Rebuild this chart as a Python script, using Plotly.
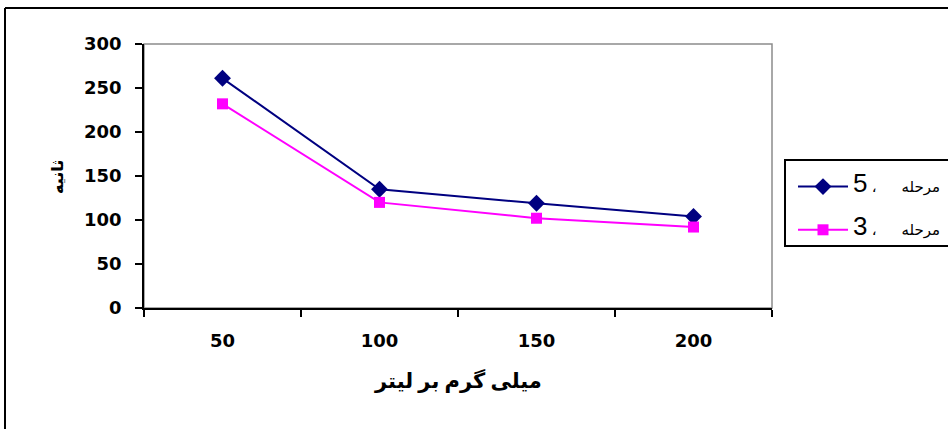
import plotly.graph_objects as go

categories = ["50", "100", "150", "200"]
stage5 = [261, 135, 119, 104]
stage3 = [232, 120, 102, 92]
y_ticks = [0, 50, 100, 150, 200, 250, 300]
gap = "\u00a0" * 6
name5 = "<span style='font-size:26px'>5</span><span style='font-size:15px'> ،" + gap + "مرحله</span>"
name3 = "<span style='font-size:26px'>3</span><span style='font-size:15px'> ،" + gap + "مرحله</span>"
x_title = "میلی گرم بر لیتر"
y_title = "ثانیه"

W, H = 948, 429
L, R, T, B = 144, 772, 44, 308
pw, ph = R - L, B - T

def px(x):
    return (x - L) / pw

def py(y):
    return (B - y) / ph

fig = go.Figure()
fig.add_trace(go.Scatter(
    x=categories, y=stage5, name=name5, mode="lines+markers",
    line=dict(color="#000080", width=2),
    marker=dict(symbol="diamond", size=13, color="#000080"),
    legendgroup="a",
))
fig.add_trace(go.Scatter(
    x=categories, y=stage3, name=name3, mode="lines+markers",
    line=dict(color="#FF00FF", width=2),
    marker=dict(symbol="square", size=11, color="#FF00FF"),
    legendgroup="b",
))

tick_font = dict(family="DejaVu Sans, Arial, sans-serif", size=18, weight="bold")

fig.update_layout(
    width=W, height=H,
    margin=dict(l=L, r=W - R, t=T, b=H - B, autoexpand=False),
    paper_bgcolor="white", plot_bgcolor="white",
    font=dict(family="Arial, Liberation Sans, sans-serif", color="black"),
    showlegend=True,
    legend=dict(
        x=px(793), y=py(171), xanchor="left", yanchor="top",
        bgcolor="rgba(0,0,0,0)", borderwidth=0,
        tracegroupgap=22,
        font=dict(family="Arial, Liberation Sans, DejaVu Sans, sans-serif", size=14, color="black"),
        itemwidth=50,
    ),
    xaxis=dict(
        type="category", range=[-0.5, 3.5], tickson="boundaries",
        ticks="outside", ticklen=7, tickwidth=1.5, tickcolor="black",
        showline=True, linecolor="black", linewidth=1.5,
        showgrid=False, zeroline=False,
        tickfont=tick_font,
        ticklabelstandoff=16,
    ),
    yaxis=dict(
        range=[0, 300], tickvals=y_ticks,
        ticks="outside", ticklen=7, tickwidth=1.5, tickcolor="black",
        showline=True, linecolor="black", linewidth=1.5,
        showgrid=False, zeroline=False,
        tickfont=tick_font,
        ticklabelstandoff=10,
    ),
    shapes=[
        dict(type="rect", xref="paper", yref="paper", x0=0, y0=0, x1=1, y1=1,
             line=dict(color="#8c8c8c", width=1.5), layer="below"),
        dict(type="line", xref="paper", yref="paper", x0=px(5), x1=px(960),
             y0=py(8), y1=py(8), line=dict(color="black", width=2)),
        dict(type="line", xref="paper", yref="paper", x0=px(5), x1=px(5),
             y0=py(8), y1=py(440), line=dict(color="black", width=2)),
        dict(type="rect", xref="paper", yref="paper", x0=px(785), x1=px(960),
             y0=py(246), y1=py(160), line=dict(color="black", width=2)),
    ],
    annotations=[
        dict(text=x_title, xref="paper", yref="paper", x=px(458), y=py(381),
             showarrow=False, xanchor="center", yanchor="middle",
             font=dict(family="Times New Roman, Liberation Serif, DejaVu Sans, serif",
                       size=21, weight="bold")),
        dict(text=y_title, xref="paper", yref="paper", x=px(57), y=py(177),
             showarrow=False, xanchor="center", yanchor="middle", textangle=-90,
             font=dict(family="Times New Roman, Liberation Serif, DejaVu Sans, serif",
                       size=16, weight="bold")),
    ],
)

fig.write_html("out.html")
